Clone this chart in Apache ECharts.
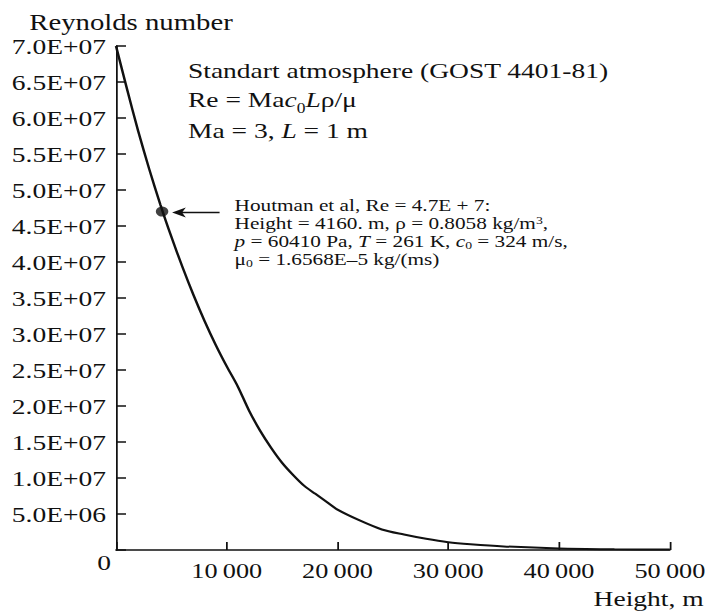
<!DOCTYPE html>
<html>
<head>
<meta charset="utf-8">
<script src="https://cdn.jsdelivr.net/npm/echarts@6/dist/echarts.min.js"></script>
<style>
  html, body { margin: 0; padding: 0; background: #fff; overflow: hidden; }
  /* The figure uses a wide serif face: the chart is laid out narrower and widened */
  #chart { height: 616px; transform-origin: 0 0; }
</style>
</head>
<body>
<div id="chart"></div>
<script>
// Reynolds number vs. altitude in the standard atmosphere (Ma = 3, L = 1 m)
const heightM = [0, 1000, 2000, 3000, 4000, 5000, 6000, 7000, 8000, 9000, 10000,
  11000, 12000, 13000, 14000, 15000, 16000, 17000, 18000, 19000, 20000,
  22000, 24000, 26000, 28000, 30000, 32000, 35000, 40000, 45000, 50000];
const reynolds = [7.0e7, 6.4e7, 5.82e7, 5.29e7, 4.8e7, 4.35e7, 3.93e7, 3.54e7, 3.18e7, 2.85e7, 2.55e7,
  2.27e7, 1.94e7, 1.66e7, 1.42e7, 1.21e7, 1.04e7, 8.9e6, 7.8e6, 6.7e6, 5.6e6,
  4.1e6, 2.85e6, 2.15e6, 1.55e6, 1.08e6, 0.8e6, 0.5e6, 0.22e6, 0.11e6, 0.06e6];

// Reference point (Houtman et al)
const markHeight = 4160;
const markRe = 4.7e7;

const yMax = 7.0e7, yStep = 5.0e6;
const xMax = 50000, xStep = 10000;

const stretch = 1.25;
const pageW = 709, pageH = 616;
const W = pageW / stretch;

const el = document.getElementById('chart');
el.style.width = W + 'px';
el.style.transform = 'scaleX(' + stretch + ')';

const serif = '"Liberation Serif", "Times New Roman", serif';
const ink = '#111';

function fmtRe(v) {
  if (v === 0) return '{z|0}';
  const e = Math.floor(Math.log10(v) + 1e-9);
  const m = v / Math.pow(10, e);
  return '{n|' + m.toFixed(1) + 'E+' + String(e).padStart(2, '0') + '}';
}
function fmtHeight(v) {
  if (v === 0) return '';
  return String(v).replace(/\B(?=(\d{3})+(?!\d))/g, '\u2009');
}

const chart = echarts.init(el, null, { renderer: 'svg', width: W, height: pageH });

chart.setOption({
  backgroundColor: '#fff',
  animation: false,
  grid: { left: 116 / stretch, right: 35 / stretch, top: 46, bottom: 66, containLabel: false },
  xAxis: {
    type: 'value', min: 0, max: xMax, interval: xStep,
    name: 'Height, m', nameLocation: 'end',
    nameGap: 0,
    nameTextStyle: { fontFamily: serif, fontSize: 22, color: ink, align: 'right', verticalAlign: 'top', padding: [38, -27, 0, 0] },
    axisLine: { lineStyle: { color: ink, width: 1.5 } },
    axisTick: { inside: true, length: 8, lineStyle: { color: ink, width: 1.4 } },
    axisLabel: { formatter: fmtHeight, fontFamily: serif, fontSize: 21, color: ink, margin: 10, showMinLabel: true, showMaxLabel: true },
    splitLine: { show: false }
  },
  yAxis: {
    type: 'value', min: 0, max: yMax, interval: yStep,
    name: 'Reynolds number', nameLocation: 'end', nameGap: 12,
    nameTextStyle: { fontFamily: serif, fontSize: 23, color: ink, align: 'center', padding: [0, 0, 0, 24] },
    axisLine: { lineStyle: { color: ink, width: 1.4 } },
    axisTick: { inside: true, length: 8, lineStyle: { color: ink, width: 1.5 } },
    axisLabel: {
      formatter: fmtRe, fontFamily: serif, fontSize: 22, color: ink, margin: 4,
      rich: {
        n: { fontFamily: serif, fontSize: 22, color: ink, padding: [0, 4, 0, 0] },
        z: { fontFamily: serif, fontSize: 22, color: ink, padding: [26, 0, 0, 0] }
      }
    },
    splitLine: { show: false }
  },
  series: [
    {
      type: 'line', name: 'Re',
      data: heightM.map((h, i) => [h, reynolds[i]]),
      smooth: 0.3, showSymbol: false,
      lineStyle: { color: ink, width: 2 },
      z: 2
    },
    {
      type: 'scatter', name: 'Houtman et al',
      data: [[markHeight, markRe]],
      symbol: 'circle', symbolSize: 10,
      itemStyle: { color: ink },
      z: 3
    }
  ]
});

// Rich-text styles: italics, subscripts and superscripts for a given font size / line pitch
function richFor(size, lh) {
  const small = Math.round(size * 0.65);
  return {
    i: { fontFamily: serif, fontStyle: 'italic', fontSize: size, color: ink, lineHeight: lh },
    sub: { fontFamily: serif, fontSize: small, color: ink, verticalAlign: 'bottom', lineHeight: Math.max(small, lh - size * 0.5) },
    sup: { fontFamily: serif, fontSize: small, color: ink, verticalAlign: 'top', lineHeight: Math.max(small, lh - size * 0.7) }
  };
}

const headLines = [
  'Standart atmosphere (GOST 4401-81)',
  'Re = Ma{i|c}{sub|0}{i|L}ρ/μ',
  'Ma = 3, {i|L} = 1 m'
];
const noteLines = [
  'Houtman et al, Re = 4.7E + 7:',
  'Height = 4160. m, ρ = 0.8058 kg/m{sup|3},',
  '{i|p} = 60410 Pa, {i|T} = 261 K, {i|c}{sub|0} = 324 m/s,',
  'μ{sub|0} = 1.6568E–5 kg/(ms)'
];

const p = chart.convertToPixel({ gridIndex: 0 }, [markHeight, markRe]);
const headLH = 30, noteLH = 18;
const graphics = [
  {
    type: 'text', left: 188 / stretch, top: 55,
    style: { text: headLines.join('\n'), fontFamily: serif, fontSize: 22, lineHeight: headLH, fill: ink, rich: richFor(22, headLH) }
  },
  {
    type: 'text', x: p[0] + 58, y: p[1] - 15,
    style: { text: noteLines.join('\n'), fontFamily: serif, fontSize: 17, lineHeight: noteLH, fill: ink, rich: richFor(17, noteLH) }
  }
];
// Pointer arrow from the notes to the reference point
const ax = p[0] + 8, ay = p[1] + 1;
graphics.push({
  type: 'line', shape: { x1: ax + 6, y1: ay, x2: ax + 38, y2: ay },
  style: { stroke: ink, lineWidth: 1.5 }
});
graphics.push({
  type: 'polygon',
  shape: { points: [[ax, ay], [ax + 11, ay - 5], [ax + 8, ay], [ax + 11, ay + 5]] },
  style: { fill: ink }
});
chart.setOption({ graphic: graphics });
</script>
</body>
</html>
